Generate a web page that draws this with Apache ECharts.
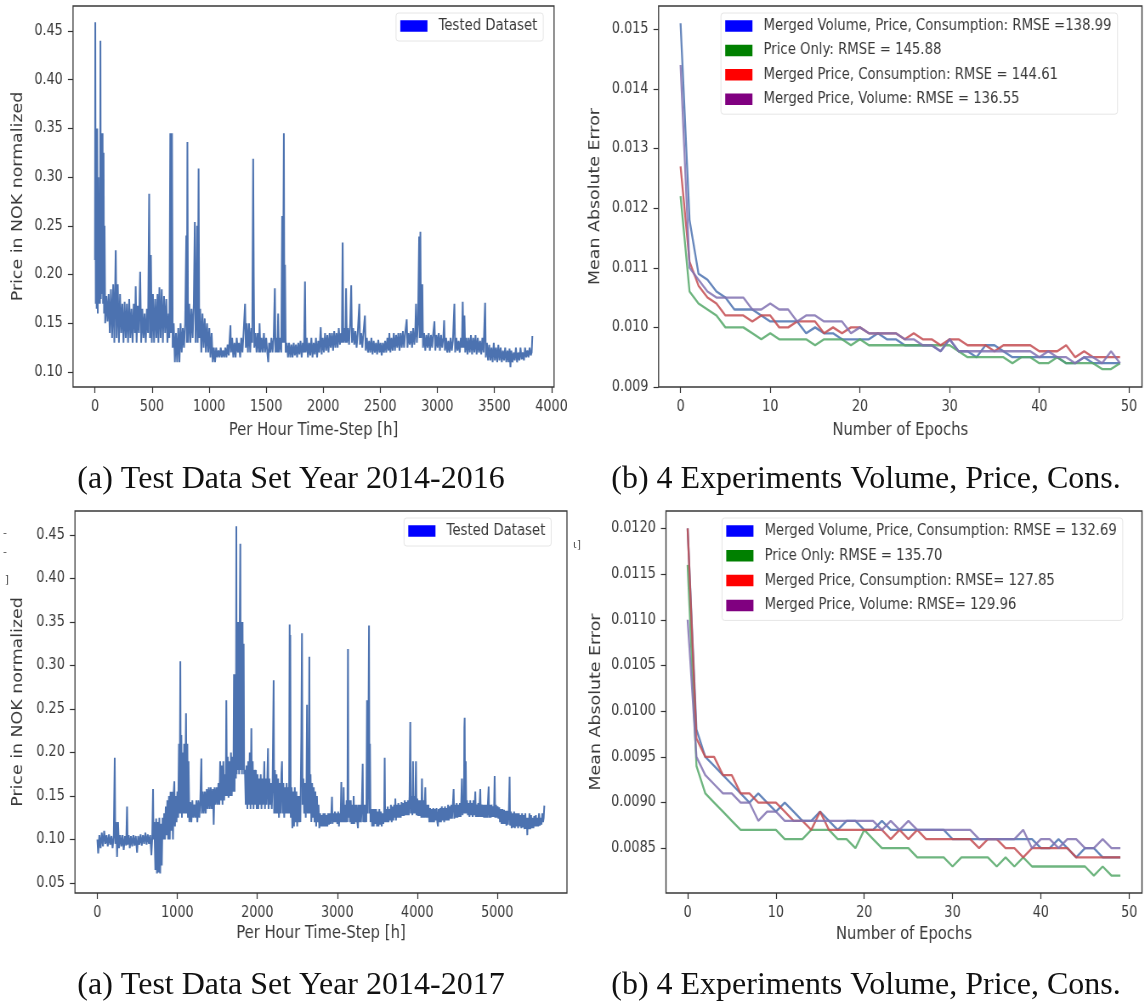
<!DOCTYPE html>
<html><head><meta charset="utf-8">
<script src="https://cdn.jsdelivr.net/npm/echarts@6.0.0/dist/echarts.min.js"></script>
<style>
html,body{margin:0;padding:0;background:#fff}
#wrap{position:relative;width:1145px;height:1006px;overflow:hidden;background:#fff}
/* the figures in the reference are horizontally compressed (LaTeX includegraphics); reproduce that */
#c{position:absolute;left:0;top:0;width:1347px;height:1006px;transform:scaleX(0.85);transform-origin:0 0}
#cap{position:absolute;left:0;top:0;width:1145px;height:1006px}
</style>
</head><body><div id="wrap"><div id="c"></div><div id="cap"></div></div>
<script>
// ---- Panel (a) top: hourly price 2014-2016, [hour, price] ----
const price2014_2016 = [
[0,.215],[3,.459],[7,.17],[11,.35],[15,.165],[20,.35],[25,.16],[30,.30],[35,.17],[40,.25],[44,.17],[48,.44],[52,.175],[58,.345],[62,.18],[67,.345],[71,.17],[76,.325],[80,.16],[84,.25],
[90,.15],[100,.178],[110,.152],[120,.18],[130,.14],
[140,.185],[150,.135],[160,.19],[170,.13],[182,.225],[190,.135],[200,.19],[210,.13],[220,.18],[230,.14],[240,.17],
[250,.13],[260,.172],[270,.135],[280,.17],[290,.13],[300,.175],[310,.135],[320,.165],[330,.13],[340,.17],[350,.14],[357,.188],[365,.13],[375,.168],[385,.14],[396,.203],[405,.13],
[415,.165],[425,.135],[435,.16],[445,.13],[455,.165],[465,.14],[475,.283],[482,.135],[490,.22],[498,.13],
[508,.18],[518,.13],[528,.175],[538,.135],[548,.18],[556,.13],[565,.187],[575,.135],[585,.185],[595,.13],[605,.178],[615,.14],[625,.175],[635,.13],[645,.16],[652,.135],
[660,.345],[666,.14],[675,.345],[681,.125],
[690,.15],[700,.11],[710,.14],[720,.11],[730,.145],[740,.11],[750,.15],[760,.12],[770,.145],[780,.125],[790,.15],
[800,.24],[805,.13],[810,.336],[816,.13],
[826,.17],[836,.13],[846,.165],[856,.135],[866,.17],[875,.254],[882,.13],[890,.175],[895,.25],[900,.13],[908,.309],[914,.135],[922,.165],
[932,.12],[942,.16],[952,.125],[962,.155],[972,.12],[982,.15],[992,.12],[1002,.145],[1012,.115],[1022,.14],[1032,.11],
[1042,.125],[1052,.11],[1062,.125],[1072,.115],[1082,.122],[1092,.115],[1102,.125],[1112,.115],[1122,.122],[1132,.115],[1142,.125],[1152,.115],[1162,.128],[1172,.117],[1187,.148],[1192,.12],
[1202,.135],[1212,.115],[1222,.13],[1232,.115],[1242,.135],[1252,.12],[1262,.13],[1272,.115],[1282,.135],[1292,.12],[1302,.14],
[1315,.17],[1322,.125],[1330,.15],[1340,.12],[1350,.15],[1360,.12],[1370,.145],[1378,.13],[1386,.319],[1391,.2],[1396,.125],
[1406,.14],[1416,.12],[1426,.14],[1436,.12],[1442,.15],[1450,.12],[1460,.135],[1470,.12],[1480,.14],[1490,.12],[1500,.135],[1510,.12],[1518,.11],[1526,.13],
[1536,.12],[1546,.135],[1556,.12],[1566,.135],[1576,.186],[1582,.12],[1592,.135],[1598,.12],[1605,.16],[1612,.12],[1622,.135],[1632,.12],[1640,.26],[1646,.13],[1655,.345],[1660,.13],[1665,.21],[1671,.12],
[1681,.13],[1691,.115],[1701,.13],[1711,.115],[1721,.128],[1731,.115],[1741,.13],[1751,.117],[1761,.128],[1771,.115],[1781,.13],[1791,.118],[1801,.132],[1811,.115],[1821,.13],[1831,.12],[1840,.193],[1846,.12],
[1856,.135],[1866,.115],[1876,.13],[1886,.117],[1896,.135],[1906,.115],[1916,.13],[1926,.118],[1936,.135],[1946,.115],[1956,.132],[1966,.12],[1978,.146],[1986,.118],[1996,.135],
[2006,.12],[2016,.14],[2026,.122],[2036,.138],[2046,.12],[2056,.14],[2066,.125],[2076,.14],[2086,.122],[2096,.142],[2106,.125],[2116,.14],[2126,.125],[2136,.145],[2146,.128],[2156,.14],[2163,.13],
[2170,.233],[2176,.13],[2186,.145],[2194,.13],[2200,.186],[2207,.13],[2216,.145],[2226,.128],[2236,.15],[2245,.189],[2252,.13],[2262,.145],[2272,.128],[2282,.142],[2292,.125],[2302,.14],[2316,.17],[2322,.128],[2332,.14],[2342,.125],[2352,.14],[2365,.158],[2372,.122],
[2382,.135],[2392,.12],[2402,.132],[2412,.12],[2422,.135],[2432,.118],[2442,.132],[2452,.12],[2462,.13],[2472,.118],[2482,.133],[2492,.12],[2502,.13],[2512,.117],[2522,.13],[2532,.12],[2542,.132],[2552,.12],[2562,.135],[2572,.122],[2579,.14],[2588,.12],[2598,.135],[2608,.122],
[2618,.14],[2628,.122],[2638,.138],[2648,.125],[2658,.14],[2668,.122],[2678,.14],[2688,.125],[2698,.142],[2708,.125],[2718,.14],[2731,.154],[2738,.125],[2748,.14],[2758,.128],[2768,.142],[2778,.125],[2788,.145],[2798,.128],[2806,.14],
[2813,.17],[2820,.13],[2830,.15],[2840,.239],[2845,.135],[2851,.244],[2857,.135],[2868,.19],[2874,.125],
[2884,.14],[2894,.122],[2904,.138],[2914,.125],[2924,.14],[2934,.122],[2944,.138],[2954,.125],[2964,.14],[2974,.152],[2982,.122],[2992,.138],[3002,.125],[3012,.14],[3022,.122],[3032,.138],[3042,.125],[3052,.135],[3059,.153],[3066,.122],
[3076,.135],[3086,.12],[3096,.132],[3106,.12],[3116,.135],[3126,.122],[3136,.132],[3149,.17],[3156,.12],[3166,.135],[3176,.122],[3186,.132],[3196,.12],[3206,.135],[3215,.125],[3222,.172],[3229,.125],[3237,.158],[3244,.12],[3254,.135],[3264,.118],[3274,.135],[3284,.12],[3294,.138],[3304,.118],[3314,.135],[3324,.12],[3334,.138],[3344,.118],[3354,.135],[3364,.12],[3374,.132],[3384,.118],[3394,.135],[3404,.12],[3418,.171],[3424,.115],
[3434,.13],[3444,.112],[3454,.128],[3464,.112],[3474,.125],[3484,.11],[3494,.13],[3504,.112],[3514,.125],[3524,.11],[3534,.128],[3544,.112],[3554,.125],[3564,.11],[3574,.122],[3584,.112],[3594,.125],[3604,.11],[3614,.122],[3624,.11],[3632,.124],[3640,.105],[3648,.122],[3658,.11],[3668,.12],[3678,.112],[3688,.125],[3698,.11],[3708,.12],[3718,.112],[3728,.125],[3738,.113],[3748,.12],[3758,.112],[3768,.125],[3778,.115],[3788,.122],[3798,.115],[3808,.125],[3818,.117],[3826,.12],[3832,.137]
];

// ---- Panel (a) bottom: hourly price 2014-2017, [hour, price] ----
const price2014_2017 = [
[0,.1],[10,.084],[25,.105],[40,.09],[55,.108],[70,.092],[85,.11],[100,.095],[115,.105],[130,.092],[145,.106],[160,.094],[175,.104],[190,.09],[205,.105],
[217,.194],[224,.095],[235,.12],[246,.08],[258,.12],[270,.09],
[285,.105],[300,.092],[315,.105],[329,.088],[345,.104],[360,.093],[371,.138],[378,.094],[392,.105],[405,.09],[420,.104],[435,.092],[450,.105],[465,.093],[480,.104],[496,.085],[510,.104],[525,.094],[540,.106],[555,.093],[570,.105],[585,.095],[600,.108],[615,.094],[630,.106],[645,.095],[660,.105],[675,.082],[685,.1],
[696,.158],[702,.1],[712,.12],[725,.065],[735,.124],[745,.061],[755,.12],[765,.062],[775,.125],[785,.061],[795,.118],[805,.07],[815,.125],
[825,.1],[835,.13],[845,.1],[855,.138],[865,.105],[875,.145],[885,.1],[895,.15],[905,.1],[915,.155],[925,.11],[935,.155],[945,.1],[955,.155],[962,.167],[970,.115],[980,.15],[990,.12],[1000,.155],[1010,.125],
[1020,.21],[1028,.13],[1037,.305],[1043,.13],[1050,.22],[1057,.125],
[1065,.2],[1075,.13],[1085,.21],[1095,.13],[1108,.245],[1115,.13],[1125,.21],[1132,.125],[1140,.19],
[1150,.12],[1162,.143],[1175,.12],[1187,.145],[1200,.125],[1212,.14],[1225,.125],[1237,.145],[1250,.12],[1262,.145],[1275,.125],[1287,.145],
[1300,.193],[1306,.13],
[1318,.155],[1330,.13],[1343,.155],[1355,.13],[1368,.158],[1380,.135],[1393,.16],[1405,.135],[1418,.16],[1430,.135],[1443,.158],[1454,.117],[1465,.16],[1477,.14],[1490,.16],[1502,.14],[1514,.165],
[1525,.14],[1535,.19],[1545,.145],[1555,.185],[1565,.14],[1575,.19],[1585,.145],[1595,.175],[1605,.15],[1612,.26],[1620,.15],[1630,.195],[1640,.148],[1650,.19],[1660,.15],[1670,.2],[1680,.15],[1690,.195],[1700,.155],
[1708,.29],[1715,.155],[1725,.29],[1732,.17],[1737,.46],[1742,.175],[1750,.35],[1757,.18],[1765,.35],[1772,.175],[1780,.35],[1787,.44],[1793,.18],[1800,.35],[1808,.175],[1815,.35],[1822,.18],[1829,.325],[1835,.175],
[1845,.18],[1855,.14],[1865,.185],[1875,.135],[1885,.19],[1895,.14],[1905,.2],[1915,.135],[1925,.228],[1932,.14],[1942,.19],[1952,.135],[1962,.18],[1972,.14],[1982,.18],[1992,.135],
[2002,.175],[2012,.135],[2022,.17],[2032,.14],[2042,.175],[2052,.135],[2062,.17],[2072,.14],[2087,.19],[2095,.135],[2105,.17],[2115,.14],[2125,.17],[2133,.205],[2140,.135],[2150,.17],[2160,.14],[2170,.165],[2180,.135],[2190,.16],[2204,.283],[2210,.13],
[2220,.18],[2230,.13],[2240,.175],[2250,.13],[2260,.17],[2270,.125],[2280,.165],[2290,.13],[2300,.175],[2308,.19],[2316,.13],[2326,.165],[2336,.125],[2346,.16],[2356,.13],[2366,.165],[2376,.13],[2386,.16],[2396,.13],
[2404,.347],[2408,.13],[2412,.335],[2418,.125],
[2428,.16],[2438,.113],[2448,.155],[2458,.115],[2468,.16],[2478,.12],[2488,.155],[2498,.115],[2508,.15],[2518,.12],[2528,.15],[2538,.12],
[2550,.22],[2558,.337],[2565,.14],
[2575,.17],[2585,.13],[2595,.165],[2605,.125],[2615,.17],[2621,.255],[2628,.13],[2635,.17],[2642,.13],[2650,.31],[2656,.13],[2665,.175],[2675,.12],[2685,.165],[2695,.125],[2705,.16],[2715,.12],[2725,.155],[2735,.115],[2745,.15],[2755,.12],[2765,.14],
[2775,.113],[2785,.13],[2795,.115],[2805,.128],[2815,.115],[2825,.13],[2835,.115],[2845,.13],[2855,.115],[2865,.128],[2875,.115],[2885,.13],[2895,.117],[2905,.13],[2915,.118],[2925,.13],[2933,.149],[2940,.118],[2950,.13],[2960,.12],[2970,.132],[2980,.12],[2990,.13],[3000,.118],[3010,.132],[3020,.115],[3030,.13],[3040,.12],
[3050,.166],[3058,.12],[3066,.14],[3072,.12],[3079,.16],[3086,.12],[3096,.14],[3106,.12],[3116,.145],[3126,.12],[3133,.319],[3138,.125],[3148,.145],[3158,.12],[3168,.145],[3178,.118],[3188,.14],[3198,.118],[3204,.15],[3212,.118],[3222,.14],[3232,.12],[3242,.14],[3250,.12],[3258,.113],[3266,.14],[3276,.12],[3286,.14],[3296,.12],[3306,.14],[3317,.187],[3323,.12],[3333,.14],[3343,.12],[3353,.14],[3362,.12],[3371,.26],[3378,.13],[3388,.21],[3396,.346],[3402,.13],[3408,.21],[3415,.12],
[3425,.135],[3435,.115],[3445,.135],[3455,.115],[3465,.135],[3475,.118],[3485,.135],[3495,.115],[3505,.132],[3515,.115],[3525,.135],[3535,.117],[3545,.132],[3555,.115],[3565,.13],[3575,.118],[3585,.13],
[3592,.194],[3598,.12],
[3610,.135],[3620,.12],[3630,.138],[3640,.12],[3650,.135],[3660,.122],[3670,.14],[3680,.12],[3690,.138],[3700,.122],[3710,.14],[3718,.125],[3725,.147],[3733,.122],[3743,.14],[3753,.125],[3763,.142],[3773,.125],[3783,.14],[3793,.125],[3803,.143],[3813,.127],[3823,.142],[3833,.127],[3843,.145],[3853,.128],[3863,.143],[3873,.128],[3883,.145],[3893,.128],
[3903,.15],[3912,.235],[3918,.13],[3928,.15],[3938,.128],[3946,.19],[3953,.13],[3963,.15],[3973,.13],[3983,.19],[3990,.128],[4000,.147],[4010,.127],[4020,.145],[4030,.127],[4040,.145],[4050,.125],[4058,.17],[4066,.125],[4076,.145],[4086,.125],[4094,.145],[4100,.16],[4108,.125],[4118,.14],[4128,.125],[4138,.14],
[4150,.12],[4160,.136],[4170,.12],[4180,.135],[4190,.12],[4200,.136],[4210,.12],[4220,.135],[4230,.122],[4240,.136],[4250,.12],[4258,.115],[4266,.135],[4276,.12],[4286,.136],[4296,.12],[4306,.138],[4316,.122],[4326,.136],[4336,.12],[4346,.138],[4356,.122],[4366,.136],[4376,.122],[4385,.14],[4394,.122],[4404,.138],[4414,.124],[4424,.14],[4434,.124],[4444,.14],[4454,.158],[4462,.124],[4472,.14],[4482,.125],[4492,.142],[4502,.125],[4512,.14],[4522,.126],[4532,.142],[4542,.126],[4550,.145],[4558,.17],[4566,.128],[4574,.15],[4582,.13],[4588,.228],[4592,.24],[4598,.13],[4606,.19],[4612,.13],
[4622,.145],[4632,.128],[4642,.142],[4652,.126],[4662,.145],[4672,.128],[4682,.142],[4692,.126],[4702,.145],[4712,.128],[4725,.155],[4732,.126],[4742,.14],[4752,.126],[4762,.142],[4772,.126],[4787,.158],[4794,.126],[4804,.14],[4814,.126],[4824,.14],[4834,.125],[4844,.14],[4854,.125],
[4864,.14],[4874,.125],[4892,.161],[4898,.125],[4908,.14],[4918,.125],[4928,.14],[4938,.126],[4948,.138],[4958,.126],[4967,.173],[4974,.125],[4984,.14],[4994,.125],[5004,.138],[5014,.124],[5024,.137],[5034,.12],[5044,.135],[5054,.118],[5064,.135],[5074,.118],[5084,.134],[5094,.118],[5104,.133],[5114,.116],[5124,.133],[5134,.117],[5144,.133],[5154,.172],[5160,.116],
[5170,.132],[5180,.113],[5190,.13],[5200,.114],[5210,.132],[5220,.113],[5230,.13],[5240,.115],[5250,.13],[5260,.113],[5270,.13],[5280,.115],[5290,.128],[5300,.113],[5310,.13],[5320,.114],[5330,.128],[5340,.112],[5350,.13],[5360,.112],[5368,.125],[5375,.105],[5382,.125],[5392,.112],[5402,.13],[5412,.112],[5422,.128],[5432,.113],[5442,.125],[5452,.113],[5462,.127],[5472,.115],[5482,.128],[5492,.115],[5502,.125],[5512,.115],[5522,.13],[5532,.116],[5542,.125],[5552,.117],[5562,.13],[5572,.12],[5580,.125],[5588,.139]
];

// ---- Panels (b): mean absolute error per epoch ----
const epochs = [0,1,2,3,4,5,6,7,8,9,10,11,12,13,14,15,16,17,18,19,20,21,22,23,24,25,26,27,28,29,30,31,32,33,34,35,36,37,38,39,40,41,42,43,44,45,46,47,48,49];

const maeTopVolPriceCons = [0.0151,0.0118,0.0109,0.0108,0.0106,0.0105,0.0103,0.0103,0.0103,0.0102,0.0101,0.0101,0.0101,0.0101,0.0099,0.0100,0.0099,0.0099,0.0098,0.0098,0.0098,0.0098,0.0099,0.0098,0.0098,0.0097,0.0097,0.0097,0.0097,0.0096,0.0098,0.0096,0.0096,0.0095,0.0097,0.0097,0.0096,0.0095,0.0095,0.0095,0.0095,0.0095,0.0095,0.0094,0.0094,0.0095,0.0094,0.0094,0.0094,0.0094];
const maeTopPriceOnly = [0.0122,0.0106,0.0104,0.0103,0.0102,0.0100,0.0100,0.0100,0.0099,0.0098,0.0099,0.0098,0.0098,0.0098,0.0098,0.0097,0.0098,0.0098,0.0098,0.0097,0.0098,0.0097,0.0097,0.0097,0.0097,0.0097,0.0097,0.0097,0.0097,0.0097,0.0097,0.0096,0.0095,0.0095,0.0095,0.0095,0.0095,0.0094,0.0095,0.0095,0.0094,0.0094,0.0095,0.0094,0.0094,0.0094,0.0094,0.0093,0.0093,0.0094];
const maeTopPriceCons = [0.0127,0.0111,0.0107,0.0105,0.0104,0.0102,0.0102,0.0102,0.0101,0.0102,0.0102,0.0100,0.0100,0.0101,0.0101,0.0101,0.0099,0.0100,0.0099,0.0100,0.0100,0.0099,0.0099,0.0099,0.0099,0.0098,0.0099,0.0098,0.0098,0.0097,0.0098,0.0098,0.0097,0.0097,0.0097,0.0096,0.0097,0.0097,0.0097,0.0097,0.0096,0.0096,0.0096,0.0097,0.0095,0.0096,0.0095,0.0095,0.0095,0.0095];
const maeTopPriceVol = [0.0144,0.0110,0.0108,0.0106,0.0105,0.0105,0.0105,0.0105,0.0103,0.0103,0.0104,0.0103,0.0103,0.0101,0.0102,0.0102,0.0101,0.0101,0.0101,0.0099,0.0100,0.0099,0.0099,0.0099,0.0099,0.0098,0.0098,0.0097,0.0097,0.0096,0.0098,0.0096,0.0096,0.0096,0.0096,0.0096,0.0096,0.0096,0.0096,0.0096,0.0095,0.0096,0.0095,0.0095,0.0094,0.0095,0.0095,0.0094,0.0096,0.0094];

const maeBotVolPriceCons = [0.0120,0.0098,0.0095,0.0094,0.0093,0.0092,0.0091,0.0090,0.0091,0.0090,0.0089,0.0090,0.0089,0.0088,0.0088,0.0089,0.0088,0.0087,0.0088,0.0088,0.0087,0.0087,0.0088,0.0087,0.0087,0.0087,0.0087,0.0087,0.0087,0.0087,0.0086,0.0086,0.0086,0.0086,0.0086,0.0086,0.0086,0.0086,0.0086,0.0086,0.0085,0.0085,0.0086,0.0085,0.0084,0.0085,0.0085,0.0084,0.0084,0.0084];
const maeBotPriceOnly = [0.0116,0.0094,0.0091,0.0090,0.0089,0.0088,0.0087,0.0087,0.0087,0.0087,0.0087,0.0086,0.0086,0.0086,0.0087,0.0087,0.0087,0.0086,0.0086,0.0085,0.0087,0.0086,0.0085,0.0085,0.0085,0.0085,0.0084,0.0084,0.0084,0.0084,0.0083,0.0084,0.0084,0.0084,0.0084,0.0083,0.0084,0.0083,0.0084,0.0083,0.0083,0.0083,0.0083,0.0083,0.0083,0.0083,0.0082,0.0083,0.0082,0.0082];
const maeBotPriceCons = [0.0120,0.0097,0.0095,0.0095,0.0093,0.0093,0.0091,0.0091,0.0090,0.0090,0.0090,0.0089,0.0088,0.0088,0.0087,0.0089,0.0087,0.0087,0.0087,0.0087,0.0087,0.0087,0.0087,0.0086,0.0087,0.0086,0.0087,0.0086,0.0086,0.0086,0.0086,0.0086,0.0086,0.0085,0.0086,0.0086,0.0085,0.0085,0.0084,0.0085,0.0085,0.0085,0.0085,0.0085,0.0084,0.0084,0.0084,0.0084,0.0084,0.0084];
const maeBotPriceVol = [0.0110,0.0095,0.0093,0.0092,0.0091,0.0091,0.0090,0.0090,0.0088,0.0089,0.0089,0.0088,0.0088,0.0088,0.0088,0.0088,0.0088,0.0088,0.0088,0.0088,0.0088,0.0088,0.0087,0.0088,0.0087,0.0088,0.0087,0.0087,0.0087,0.0087,0.0087,0.0087,0.0087,0.0086,0.0086,0.0086,0.0086,0.0086,0.0087,0.0085,0.0086,0.0086,0.0085,0.0086,0.0086,0.0085,0.0085,0.0086,0.0085,0.0085];

// ---- tick labels ----
const hourTicksTop = [0,500,1000,1500,2000,2500,3000,3500,4000];
const hourTicksBot = [0,1000,2000,3000,4000,5000];
const priceTicksTop = [0.10,0.15,0.20,0.25,0.30,0.35,0.40,0.45];
const priceTicksBot = [0.05,0.10,0.15,0.20,0.25,0.30,0.35,0.40,0.45];
const epochTicks = [0,10,20,30,40,50];
const maeTicksTop = [0.009,0.010,0.011,0.012,0.013,0.014,0.015];
const maeTicksBot = [0.0085,0.0090,0.0095,0.0100,0.0105,0.0110,0.0115,0.0120];

const namesTop = ['Merged Volume, Price, Consumption: RMSE =138.99','Price Only: RMSE = 145.88','Merged Price, Consumption: RMSE = 144.61','Merged Price, Volume: RMSE = 136.55'];
const namesBot = ['Merged Volume, Price, Consumption: RMSE = 132.69','Price Only: RMSE = 135.70','Merged Price, Consumption: RMSE= 127.85','Merged Price, Volume: RMSE= 129.96'];
const captions = ['(a) Test Data Set Year 2014-2016','(b) 4 Experiments Volume, Price, Cons.','(a) Test Data Set Year 2014-2017','(b) 4 Experiments Volume, Price, Cons.'];

// ---- styling ----
const FONT = 'DejaVu Sans';
const TXT = '#3a3a3a';
const lineColors = ['#4C72B0','#55A868','#C44E52','#8172B2'];
const legendColors = ['#0000ff','#008000','#ff0000','#800080'];

const chart = echarts.init(document.getElementById('c'), null, {renderer:'canvas', width:1347, height:1006});

// positions in the un-compressed frame (page x / 0.85)
const grids = [
  {left:85.9, top:6, width:565.9, height:381},
  {left:774.8, top:6, width:568.7, height:381},
  {left:88.2, top:511, width:578.8, height:382},
  {left:783.5, top:511, width:560, height:382}
];

function xAx(i, min, max, ticks, name, gap){
  return {type:'value', gridIndex:i, min, max, name, nameLocation:'middle', nameGap:gap,
    nameTextStyle:{fontFamily:FONT, fontSize:17.4, color:TXT},
    axisLine:{show:false, onZero:false}, splitLine:{show:false},
    axisTick:{show:true, length:6, lineStyle:{color:'#333', width:1.2}, customValues:ticks},
    axisLabel:{fontFamily:FONT, fontSize:15, color:TXT, margin:13, customValues:ticks, formatter:v=>String(v)}};
}
function yAx(i, min, max, ticks, name, dec, gap){
  return {type:'value', gridIndex:i, min, max, name, nameLocation:'middle', nameGap:gap,
    nameTextStyle:{fontFamily:FONT, fontSize:17.4, color:TXT},
    axisLine:{show:false, onZero:false}, splitLine:{show:false},
    axisTick:{show:true, length:6, lineStyle:{color:'#333', width:1.2}, customValues:ticks},
    axisLabel:{fontFamily:FONT, fontSize:15, color:TXT, margin:12, customValues:ticks, formatter:v=>v.toFixed(dec)}};
}

const pair = arr => epochs.map((e,k)=>[e, arr[k]]);

const series = [
  {name:'Tested Dataset', type:'line', xAxisIndex:0, yAxisIndex:0, data:price2014_2016, showSymbol:false, lineStyle:{color:lineColors[0], width:2}, itemStyle:{color:lineColors[0]}},
  {name:'Tested Dataset', type:'line', xAxisIndex:2, yAxisIndex:2, data:price2014_2017, showSymbol:false, lineStyle:{color:lineColors[0], width:2}, itemStyle:{color:lineColors[0]}}
];
const topSets = [maeTopVolPriceCons, maeTopPriceOnly, maeTopPriceCons, maeTopPriceVol];
const botSets = [maeBotVolPriceCons, maeBotPriceOnly, maeBotPriceCons, maeBotPriceVol];
topSets.forEach((arr,k)=>series.push({name:namesTop[k], type:'line', xAxisIndex:1, yAxisIndex:1, data:pair(arr), showSymbol:false, lineStyle:{color:lineColors[k], width:2.3, opacity:0.85}, itemStyle:{color:lineColors[k]}}));
botSets.forEach((arr,k)=>series.push({name:namesBot[k], type:'line', xAxisIndex:3, yAxisIndex:3, data:pair(arr), showSymbol:false, lineStyle:{color:lineColors[k], width:2.3, opacity:0.85}, itemStyle:{color:lineColors[k]}}));

function legend(left, top, names, colors, gap){
  return {left, top, orient:'vertical', selectedMode:false, padding:[4.5,7,6.5,5], itemWidth:32, itemHeight:11.5, itemGap:gap,
    icon:'rect', backgroundColor:'rgba(255,255,255,0.8)', borderColor:'#e6e6e6', borderWidth:1, borderRadius:3,
    itemStyle:{borderWidth:0},
    textStyle:{fontFamily:FONT, fontSize:15.6, color:TXT, lineHeight:17, padding:[0,0,0,8]},
    data: names.map((n,k)=>({name:n, itemStyle:{color:colors[k], borderWidth:0}}))};
}

chart.setOption({
  animation:false,
  backgroundColor:'#fff',
  grid: grids.map(g=>Object.assign({show:true, borderColor:'#383838', borderWidth:1.3, backgroundColor:'transparent', containLabel:false}, g)),
  xAxis:[
    xAx(0,-192,4022,hourTicksTop,'Per Hour Time-Step [h]',35),
    xAx(1,-2.45,51.45,epochTicks,'Number of Epochs',35),
    xAx(2,-280,5871,hourTicksBot,'Per Hour Time-Step [h]',32),
    xAx(3,-2.45,51.45,epochTicks,'Number of Epochs',33)
  ],
  yAxis:[
    yAx(0,0.0846,0.4757,priceTicksTop,'Price in NOK normalized',2,56),
    yAx(1,0.009,0.01539,maeTicksTop,'Mean Absolute Error',3,66),
    yAx(2,0.0385,0.4776,priceTicksBot,'Price in NOK normalized',2,58),
    yAx(3,0.00801,0.01219,maeTicksBot,'Mean Absolute Error',4,74)
  ],
  legend:[
    legend(465.9,13,['Tested Dataset'],['#0000ff'],7),
    legend(848.2,13,namesTop,legendColors,7.4),
    legend(475.3,518,['Tested Dataset'],['#0000ff'],7),
    legend(849.4,518,namesBot,legendColors,7.8)
  ],
  series
});

// captions (LaTeX text, not compressed) in a second, overlaid chart
const capChart = echarts.init(document.getElementById('cap'), null, {renderer:'canvas', width:1145, height:1006});
const capPos = [[291,480],[866,480],[291,986],[866,986]];
const capGraphics = captions.map((t,k)=>({type:'text', x:capPos[k][0], y:capPos[k][1], silent:true,
  style:{text:t, fontFamily:'Liberation Serif', fontSize:32, fill:'#111', align:'center', verticalAlign:'middle', textAlign:'center', textVerticalAlign:'middle'}}));
// small clipped marks at the page edge
const edgeMarks = [['-',5,533],['-',5,552],[']',7,580],['\u03b9]',577,545]];
edgeMarks.forEach(m=>capGraphics.push({type:'text', x:m[1], y:m[2], silent:true,
  style:{text:m[0], fontFamily:'DejaVu Sans', fontSize:11, fill:'#555', align:'center', verticalAlign:'middle', textAlign:'center', textVerticalAlign:'middle'}}));
capChart.setOption({animation:false, graphic:capGraphics});
</script>
</body></html>
